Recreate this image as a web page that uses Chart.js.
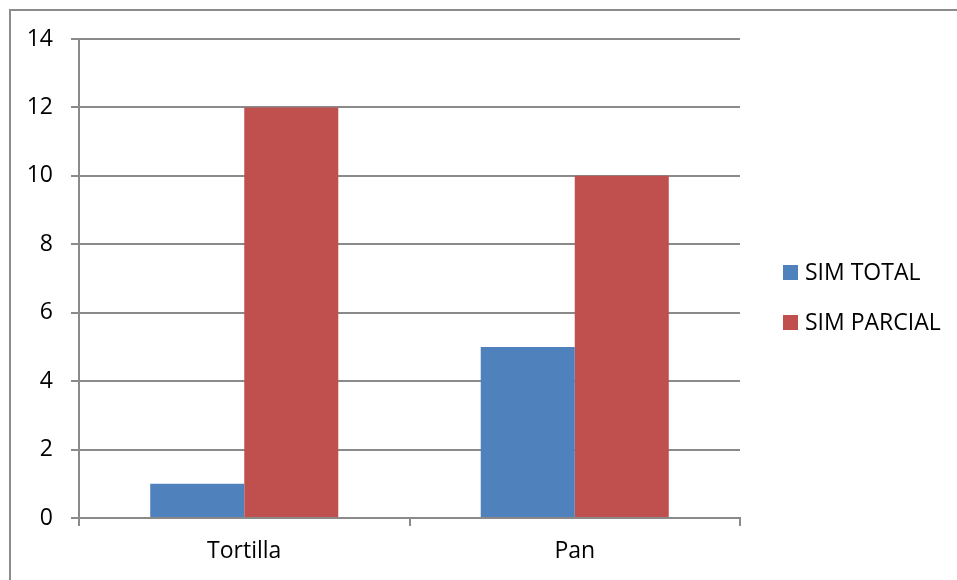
<!DOCTYPE html>
<html>
<head>
<meta charset="utf-8">
<script src="https://cdn.jsdelivr.net/npm/chart.js@4/dist/chart.umd.min.js"></script>
<style>
  html, body { margin: 0; padding: 0; background: #ffffff; }
  #wrap { position: relative; width: 957px; height: 580px; overflow: hidden; }
  #frame {
    position: absolute; left: 9px; top: 9px; width: 2000px; height: 2000px;
    border-left: 2px solid #8c8c8c; border-top: 2px solid #8c8c8c;
    pointer-events: none;
  }
  canvas { position: absolute; left: 0; top: 0; }
</style>
</head>
<body>
<div id="wrap">
  <canvas id="chart" width="957" height="580"></canvas>
  <div id="frame"></div>
</div>
<script>
// Categories and series
const categories = ['Tortilla', 'Pan'];
const simTotal = [1, 5];
const simParcial = [12, 10];
const seriesNames = ['SIM TOTAL', 'SIM PARCIAL'];
const seriesColors = ['#4F81BD', '#C0504D'];
const yTicks = [0, 2, 4, 6, 8, 10, 12, 14];

const FONT = "'Open Sans', sans-serif";
const FONT_SIZE = 23;
const GRID = '#8a8a8a';

// Legend drawn at the right, square swatches with labels
const sideLegend = {
  id: 'sideLegend',
  afterDraw(chart) {
    const ctx = chart.ctx;
    ctx.save();
    ctx.font = FONT_SIZE + 'px ' + FONT;
    ctx.textBaseline = 'alphabetic';
    ctx.textAlign = 'left';
    chart.data.datasets.forEach((ds, i) => {
      const y = 265 + i * 50;
      ctx.fillStyle = ds.backgroundColor;
      ctx.fillRect(783, y, 15, 15);
      ctx.fillStyle = '#000000';
      ctx.fillText(ds.label, 805, y + 15);
    });
    ctx.restore();
  }
};

new Chart(document.getElementById('chart'), {
  type: 'bar',
  data: {
    labels: categories,
    datasets: [
      { label: seriesNames[0], data: simTotal, backgroundColor: seriesColors[0] },
      { label: seriesNames[1], data: simParcial, backgroundColor: seriesColors[1] }
    ]
  },
  options: {
    responsive: false,
    devicePixelRatio: 1,
    animation: false,
    layout: { padding: { left: 0, right: 217, top: 39, bottom: 0 } },
    datasets: { bar: { barPercentage: 1, categoryPercentage: 0.569, borderWidth: 0 } },
    plugins: { legend: { display: false }, tooltip: { enabled: false } },
    scales: {
      x: {
        offset: true,
        afterFit(scale) { scale.height = 62; },
        grid: {
          offset: true, drawOnChartArea: false, drawTicks: true, tickLength: 8,
          color: GRID, lineWidth: 2
        },
        border: { display: true, color: GRID, width: 2 },
        ticks: { color: '#000000', font: { family: FONT, size: FONT_SIZE }, padding: 12 }
      },
      y: {
        min: 0, max: 14,
        afterFit(scale) { scale.width = 79; },
        afterBuildTicks(scale) { scale.ticks = yTicks.map(v => ({ value: v })); },
        grid: { color: GRID, lineWidth: 2, drawTicks: true, tickLength: 8 },
        border: { display: true, color: GRID, width: 2 },
        ticks: { color: '#000000', font: { family: FONT, size: FONT_SIZE }, padding: 18 }
      }
    }
  },
  plugins: [sideLegend]
});
</script>
</body>
</html>
